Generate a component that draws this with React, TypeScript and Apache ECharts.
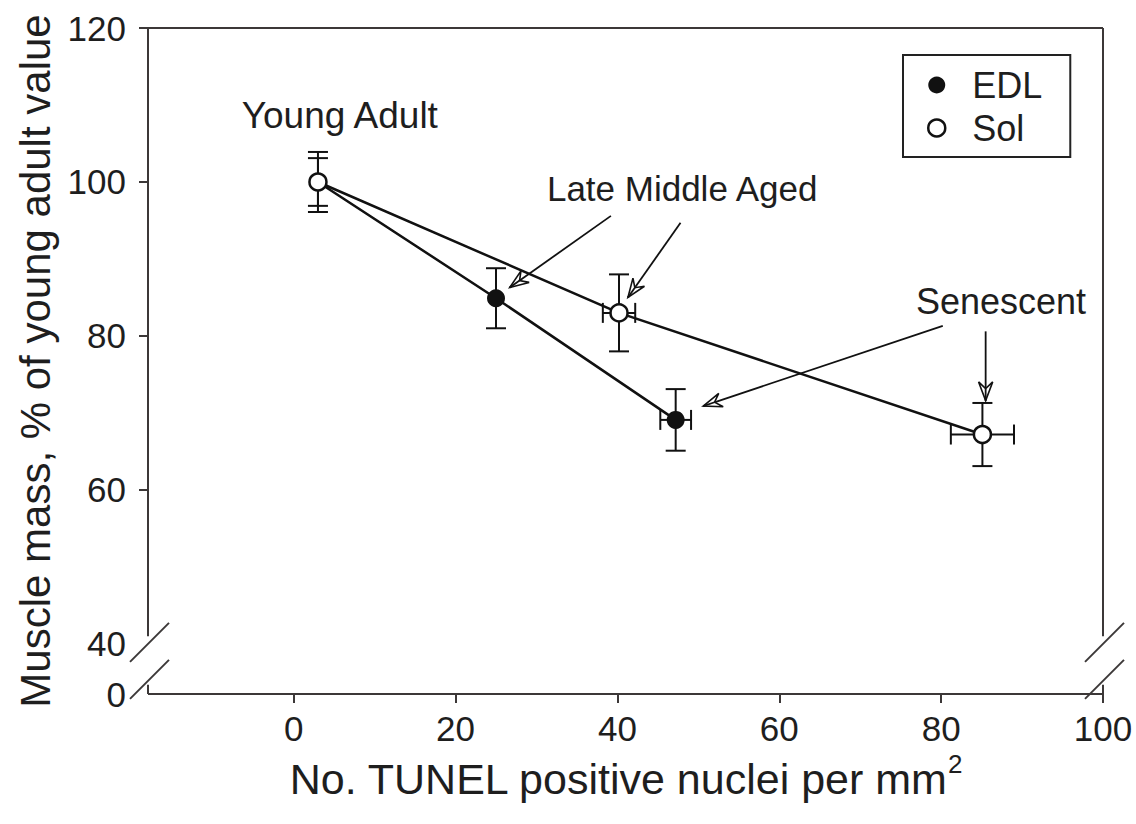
import React, { useEffect, useRef } from 'react';
import * as echarts from 'echarts';

const FONT = '"Liberation Sans", Arial, Helvetica, sans-serif';
const INK = '#111111';
const AXIS_INK = '#3c3838';
const TEXT_INK = '#1e1e1e';

// ---- data ----
const edlX = [3, 25, 47.2];
const edlY = [100, 84.9, 69.1];
const edlXErr = [0, 0, 1.9];
const edlYErr = [3.9, 3.9, 4];

const solX = [3, 40.2, 85.1];
const solY = [100, 83, 67.2];
const solXErr = [0, 2, 3.9];
const solYErr = [3.1, 5, 4.1];

const xTickValues = [0, 20, 40, 60, 80, 100];
const yLabelValues = [40, 60, 80, 100, 120];
const yTickValues = [60, 80, 100, 120];
const yBreakLabel = '0';

const X_MIN = -18;
const X_MAX = 100;
const Y_MAX = 120;
const Y_FLOOR = 33.5; // position standing for "0" below the axis break
const Y_BREAK_TOP = 41.0;
const Y_BREAK_BOTTOM = 34.7;
const Y_SLASHES = [40.2, 35.4];

const annotationTexts = ['Young Adult', 'Late Middle Aged', 'Senescent'];
const annotationX = [5.7, 48, 87.4];
const annotationY = [108.6, 99.2, 84.5];
const annotationSize = [37, 35, 36];

const arrowFromX = [39.2, 47.8, 80.2, 85.5];
const arrowFromY = [95.6, 94.7, 81.3, 80.6];
const arrowToX = [26.7, 41.3, 50.6, 85.5];
const arrowToY = [86.3, 85.0, 70.9, 71.6];

export default function App() {
  const ref = useRef<HTMLDivElement>(null);

  useEffect(() => {
    const chart = echarts.init(ref.current as HTMLDivElement, null, { renderer: 'svg' });

    const edlPts = edlX.map((x, i) => [x, edlY[i]]);
    const solPts = solX.map((x, i) => [x, solY[i]]);
    const edlErr = edlX.map((x, i) => [x, edlY[i], edlXErr[i], edlYErr[i]]);
    const solErr = solX.map((x, i) => [x, solY[i], solXErr[i], solYErr[i]]);
    const labels = annotationTexts.map((t, i) => [annotationX[i], annotationY[i], i]);
    const arrows = arrowFromX.map((x, i) => [x, arrowFromY[i], arrowToX[i], arrowToY[i]]);

    const errRender = (params: any, api: any) => {
      const x = api.value(0), y = api.value(1), xe = api.value(2), ye = api.value(3);
      const style = { stroke: INK, lineWidth: 2 };
      const cap = 10;
      const children: any[] = [];
      if (ye > 0) {
        const t = api.coord([x, y + ye]);
        const b = api.coord([x, y - ye]);
        children.push({ type: 'line', shape: { x1: t[0], y1: t[1], x2: b[0], y2: b[1] }, style });
        children.push({ type: 'line', shape: { x1: t[0] - cap, y1: t[1], x2: t[0] + cap, y2: t[1] }, style });
        children.push({ type: 'line', shape: { x1: b[0] - cap, y1: b[1], x2: b[0] + cap, y2: b[1] }, style });
      }
      if (xe > 0) {
        const l = api.coord([x - xe, y]);
        const r = api.coord([x + xe, y]);
        children.push({ type: 'line', shape: { x1: l[0], y1: l[1], x2: r[0], y2: r[1] }, style });
        children.push({ type: 'line', shape: { x1: l[0], y1: l[1] - cap, x2: l[0], y2: l[1] + cap }, style });
        children.push({ type: 'line', shape: { x1: r[0], y1: r[1] - cap, x2: r[0], y2: r[1] + cap }, style });
      }
      return { type: 'group', children };
    };

    const frameRender = (params: any, api: any) => {
      const style = { stroke: AXIS_INK, lineWidth: 2 };
      const tl = api.coord([X_MIN, Y_MAX]);
      const tr = api.coord([X_MAX, Y_MAX]);
      const bl = api.coord([X_MIN, Y_FLOOR]);
      const br = api.coord([X_MAX, Y_FLOOR]);
      const children: any[] = [];
      const seg = (a: number[], b: number[]) =>
        children.push({ type: 'line', shape: { x1: a[0], y1: a[1], x2: b[0], y2: b[1] }, style });
      seg(tl, tr);
      seg(bl, br);
      [X_MIN, X_MAX].forEach((xv) => {
        seg(api.coord([xv, Y_MAX]), api.coord([xv, Y_BREAK_TOP]));
        seg(api.coord([xv, Y_BREAK_BOTTOM]), api.coord([xv, Y_FLOOR]));
        Y_SLASHES.forEach((yv) => {
          const c = api.coord([xv, yv]);
          const d = 19.5;
          children.push({
            type: 'line',
            shape: { x1: c[0] - d + 1.5, y1: c[1] + d, x2: c[0] + d + 1.5, y2: c[1] - d },
            style,
          });
        });
      });
      return { type: 'group', children };
    };

    const labelRender = (params: any, api: any) => {
      const p = api.coord([api.value(0), api.value(1)]);
      const idx = api.value(2);
      return {
        type: 'text',
        x: p[0],
        y: p[1],
        style: {
          text: annotationTexts[idx],
          fontSize: annotationSize[idx],
          fontFamily: FONT,
          fill: TEXT_INK,
          align: 'center',
          verticalAlign: 'middle',
        },
      };
    };

    const arrowRender = (params: any, api: any) => {
      const a = api.coord([api.value(0), api.value(1)]);
      const b = api.coord([api.value(2), api.value(3)]);
      const ang = Math.atan2(b[1] - a[1], b[0] - a[0]);
      const L = 20;
      const spread = 0.36;
      const back = 12;
      const p1 = [b[0] - L * Math.cos(ang - spread), b[1] - L * Math.sin(ang - spread)];
      const p2 = [b[0] - L * Math.cos(ang + spread), b[1] - L * Math.sin(ang + spread)];
      const pb = [b[0] - back * Math.cos(ang), b[1] - back * Math.sin(ang)];
      return {
        type: 'group',
        children: [
          { type: 'line', shape: { x1: a[0], y1: a[1], x2: b[0], y2: b[1] }, style: { stroke: INK, lineWidth: 1.8 } },
          {
            type: 'polygon',
            shape: { points: [b, p1, pb, p2] },
            style: { stroke: INK, lineWidth: 1.6, fill: '#fff' },
          },
          { type: 'line', shape: { x1: pb[0], y1: pb[1], x2: b[0], y2: b[1] }, style: { stroke: INK, lineWidth: 1.8 } },
        ],
      };
    };

    chart.setOption({
      animation: false,
      backgroundColor: '#ffffff',
      grid: { left: 148, right: 33, top: 28, bottom: 130, outerBoundsMode: 'none', containLabel: false },
      legend: {
        left: 903,
        top: 55,
        orient: 'vertical',
        selectedMode: false,
        borderColor: '#222',
        borderWidth: 2,
        padding: [12, 28, 11, 24],
        itemGap: 7,
        itemWidth: 17,
        itemHeight: 17,
        textStyle: { fontSize: 36, fontFamily: FONT, color: TEXT_INK, padding: [0, 0, 0, 22] },
        data: [
          { name: 'EDL', icon: 'circle', itemStyle: { color: INK, borderWidth: 0 } },
          { name: 'Sol', icon: 'circle', itemStyle: { color: '#fff', borderColor: INK, borderWidth: 2.5 } },
        ],
      },
      xAxis: {
        type: 'value',
        min: X_MIN,
        max: X_MAX,
        axisLine: { show: false, onZero: false },
        splitLine: { show: false },
        axisTick: {
          show: true,
          customValues: xTickValues,
          length: 9,
          inside: false,
          lineStyle: { color: AXIS_INK, width: 2 },
        },
        axisLabel: {
          customValues: xTickValues,
          margin: 17,
          fontSize: 35,
          fontFamily: FONT,
          color: TEXT_INK,
        },
        name: '{t|No. TUNEL positive nuclei per mm}{s|2}',
        nameLocation: 'middle',
        nameGap: 56,
        nameTextStyle: {
          rich: {
            t: { fontSize: 43, fontFamily: FONT, color: TEXT_INK, lineHeight: 56 },
            s: { fontSize: 26, fontFamily: FONT, color: TEXT_INK, verticalAlign: 'top', lineHeight: 26 },
          },
        },
      },
      yAxis: {
        type: 'value',
        min: Y_FLOOR,
        max: Y_MAX,
        axisLine: { show: false, onZero: false },
        splitLine: { show: false },
        axisTick: {
          show: true,
          customValues: yTickValues,
          length: 9,
          inside: false,
          lineStyle: { color: AXIS_INK, width: 2 },
        },
        axisLabel: {
          customValues: [Y_FLOOR, ...yLabelValues],
          formatter: (v: number) => (Math.abs(v - Y_FLOOR) < 1e-6 ? yBreakLabel : String(v)),
          margin: 22,
          fontSize: 35,
          fontFamily: FONT,
          color: TEXT_INK,
        },
        name: 'Muscle mass, % of young adult value',
        nameLocation: 'middle',
        nameRotate: 90,
        nameGap: 90,
        nameTextStyle: { fontSize: 42, fontFamily: FONT, color: TEXT_INK },
      },
      series: [
        {
          type: 'custom',
          name: 'frame',
          data: [[X_MIN, Y_MAX]],
          encode: { x: 0, y: 1 },
          renderItem: frameRender,
          silent: true,
          z: 1,
        },
        {
          type: 'custom',
          name: 'EDL err',
          data: edlErr,
          encode: { x: 0, y: 1 },
          renderItem: errRender,
          silent: true,
          z: 2,
        },
        {
          type: 'custom',
          name: 'Sol err',
          data: solErr,
          encode: { x: 0, y: 1 },
          renderItem: errRender,
          silent: true,
          z: 2,
        },
        {
          type: 'custom',
          name: 'arrows',
          data: arrows,
          encode: { x: 0, y: 1 },
          renderItem: arrowRender,
          silent: true,
          z: 2,
        },
        {
          type: 'line',
          name: 'EDL',
          data: edlPts,
          symbol: 'circle',
          symbolSize: 18,
          lineStyle: { color: INK, width: 2.5 },
          itemStyle: { color: INK, borderWidth: 0 },
          z: 3,
        },
        {
          type: 'line',
          name: 'Sol',
          data: solPts,
          symbol: 'circle',
          symbolSize: 17,
          lineStyle: { color: INK, width: 2.5 },
          itemStyle: { color: '#fff', borderColor: INK, borderWidth: 2.5 },
          z: 4,
        },
        {
          type: 'custom',
          name: 'labels',
          data: labels,
          encode: { x: 0, y: 1 },
          renderItem: labelRender,
          silent: true,
          z: 5,
        },
      ],
    });

    return () => chart.dispose();
  }, []);

  return (
    <div
      ref={ref}
      style={{ position: 'fixed', left: 0, top: 0, width: 1136, height: 824, background: '#fff' }}
    />
  );
}
